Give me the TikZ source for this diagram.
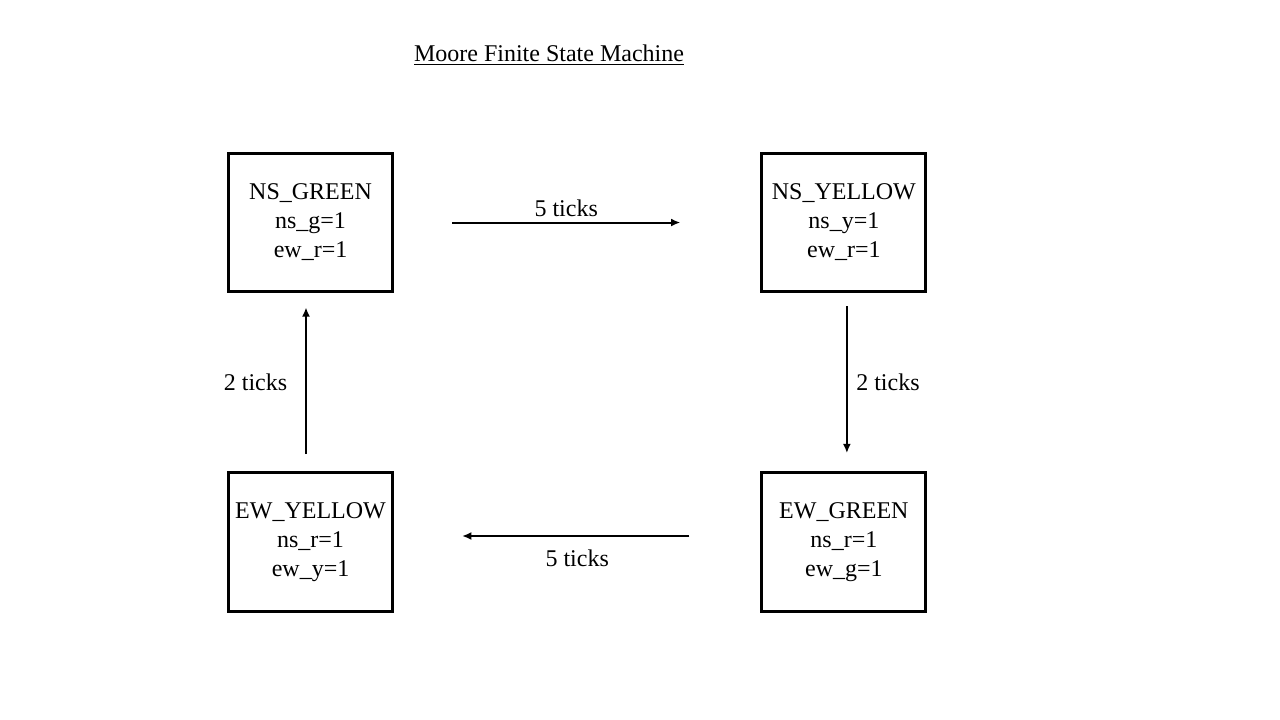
\documentclass[tikz,border=0pt]{standalone}
\usepackage{fontspec}
\setmainfont{Liberation Serif}
\usepackage{tikz}
\usetikzlibrary{arrows.meta,positioning}
\tikzstyle{fsmstate}=[draw, line width=2.25pt, minimum width=123pt, minimum height=104pt, align=center]
\tikzstyle{trans}=[->, line width=1.5pt]

\begin{document}
\begin{tikzpicture}[>={Latex[length=7pt,width=6pt]},font=\fontsize{18pt}{21.75pt}\selectfont]
    \useasboundingbox (0,0) rectangle (960pt,-540pt);
    \node (title) at (411.75pt,-41.25pt) {\underline{Moore Finite State Machine}};
    \node [fsmstate] (nsg) at (232.9pt,-166.9pt) {NS\_GREEN\\ns\_g=1\\ew\_r=1};
    \node [fsmstate] (nsy) [right of=nsg,node distance=400pt] {NS\_YELLOW\\ns\_y=1\\ew\_r=1};
    \node [fsmstate] (ewy) [below of=nsg,node distance=239.6pt] {EW\_YELLOW\\ns\_r=1\\ew\_y=1};
    \node [fsmstate] (ewg) [below of=nsy,node distance=239.6pt] {EW\_GREEN\\ns\_r=1\\ew\_g=1};
    \draw [trans, shorten <=43.5pt, shorten >=60pt] (nsg) -- node [above, pos=0.47] {5 ticks} (nsy);
    \draw [trans, shorten <=9.75pt, shorten >=13.5pt] ([xshift=2.25pt]nsy.south) -- node [right, xshift=3pt] {2 ticks} ([xshift=2.25pt]ewg.north);
    \draw [trans, shorten <=53.25pt, shorten >=51pt] ([yshift=4.5pt]ewg.west) -- node [below, yshift=-6pt] {5 ticks} ([yshift=4.5pt]ewy.east);
    \draw [trans, shorten <=12.75pt, shorten >=10.5pt] ([xshift=-3.4pt]ewy.north) -- node [left, xshift=-10pt] {2 ticks} ([xshift=-3.4pt]nsg.south);
\end{tikzpicture}
\end{document}
